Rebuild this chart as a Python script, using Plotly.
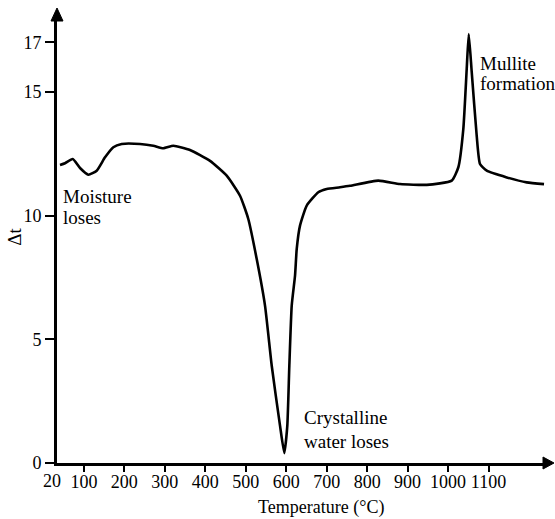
import plotly.graph_objects as go

# DTA curve: temperature (°C) and temperature difference Δt
temperature = [40.9, 53.3, 72.3, 90.4, 110.9, 131.6, 152.2, 172.7, 193.4, 238.7,
               271.5, 296.2, 321.0, 362.2, 411.7, 452.9, 485.8, 506.3, 527.1, 547.6,
               564.2, 584.7, 595.3, 602.7, 607.7, 613.6, 621.8, 626.0, 634.1, 650.7,
               679.3, 700.1, 733.0, 757.7, 827.6, 881.3, 947.3, 1009.1, 1025.4, 1037.7,
               1046.1, 1051.1, 1058.5, 1070.8, 1079.0, 1095.6, 1145.0, 1194.4, 1237.2]
delta_t = [12.04, 12.11, 12.28, 11.92, 11.65, 11.81, 12.35, 12.76, 12.89, 12.89,
           12.82, 12.72, 12.82, 12.65, 12.21, 11.61, 10.80, 9.86, 8.24, 6.36,
           3.93, 1.51, 0.40, 1.51, 3.93, 6.36, 7.57, 8.65, 9.59, 10.40,
           10.94, 11.07, 11.14, 11.20, 11.41, 11.27, 11.24, 11.41, 11.95, 13.49,
           15.92, 17.33, 15.79, 13.22, 12.08, 11.81, 11.54, 11.34, 11.27]

x_ticks = [100, 200, 300, 400, 500, 600, 700, 800, 900, 1000, 1100]
y_ticks = [0, 5, 10, 15, 17]

FONT = "Liberation Serif, Times New Roman, Times, serif"
X_RANGE = [33.5, 1247]
Y_RANGE = [0, 17.9]


def xpaper(v):
    return (v - X_RANGE[0]) / (X_RANGE[1] - X_RANGE[0])


fig = go.Figure()
fig.add_trace(go.Scatter(
    x=temperature, y=delta_t, mode="lines",
    line=dict(color="black", width=2.6, shape="spline", smoothing=0.5),
    hoverinfo="skip", showlegend=False,
))

fig.update_layout(
    width=555, height=519,
    margin=dict(l=57, r=7, t=20, b=56),
    paper_bgcolor="white", plot_bgcolor="white",
    font=dict(family=FONT, color="black", size=18),
    xaxis=dict(
        range=X_RANGE, tickvals=x_ticks, ticktext=[str(v) for v in x_ticks],
        showgrid=False, zeroline=False, showline=True, linecolor="black", linewidth=3,
        ticks="outside", ticklen=6, tickwidth=2, tickcolor="black",
        ticklabelstandoff=-6,
        tickfont=dict(family=FONT, size=18),
    ),
    yaxis=dict(
        range=Y_RANGE, tickvals=y_ticks, ticktext=[str(v) for v in y_ticks],
        showgrid=False, zeroline=False, showline=True, linecolor="black", linewidth=3,
        ticks="outside", ticklen=9, tickwidth=2, tickcolor="black",
        tickfont=dict(family=FONT, size=18),
    ),
)

# arrowheads at the ends of both axes
fig.add_shape(type="path", xref="paper", yref="paper", xsizemode="pixel", ysizemode="pixel",
              xanchor=1, yanchor=0, path="M -5,6 L 6,0 L -5,-6 Z",
              fillcolor="black", line=dict(color="black", width=1), layer="above")
fig.add_shape(type="path", xref="paper", yref="paper", xsizemode="pixel", ysizemode="pixel",
              xanchor=0, yanchor=1, path="M -6,-1 L 0,12 L 6,-1 Z",
              fillcolor="black", line=dict(color="black", width=1), layer="above")

# origin label of the temperature axis
fig.add_annotation(x=xpaper(20), y=0, xref="paper", yref="paper", text="20", showarrow=False,
                   xanchor="center", yanchor="top", yshift=-6,
                   font=dict(family=FONT, size=18))

# event labels
labels = [
    ("Moisture", 43, 10.75), ("loses", 43, 9.90),
    ("Crystalline", 639, 1.83), ("water loses", 639, 0.86),
    ("Mullite", 1074, 16.16), ("formation", 1074, 15.35),
]
for text, x, y in labels:
    fig.add_annotation(x=x, y=y, xref="x", yref="y", text=text, showarrow=False,
                       xanchor="left", yanchor="middle", font=dict(family=FONT, size=19))

# axis titles
fig.add_annotation(x=0.538, y=-0.10, xref="paper", yref="paper", text="Temperature (°C)",
                   showarrow=False, xanchor="center", yanchor="middle",
                   font=dict(family=FONT, size=18))
fig.add_annotation(x=-0.0855, y=0.511, xref="paper", yref="paper", text="Δt",
                   showarrow=False, textangle=-90, xanchor="center", yanchor="middle",
                   font=dict(family=FONT, size=19))

fig.write_html("out.html")
